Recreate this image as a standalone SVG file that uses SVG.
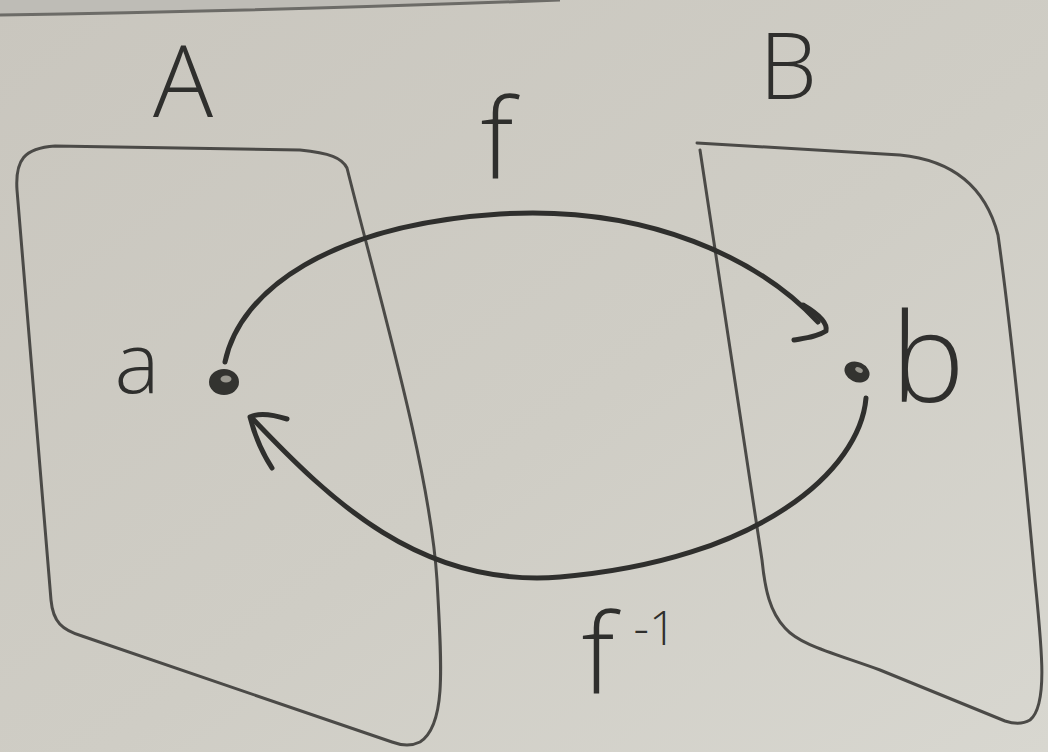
<svg xmlns="http://www.w3.org/2000/svg" width="1048" height="752" viewBox="0 0 1048 752">
  <defs>
    <linearGradient id="board" x1="0" y1="0" x2="1" y2="1">
      <stop offset="0" stop-color="#c9c6be"/>
      <stop offset="0.55" stop-color="#cfcdc5"/>
      <stop offset="1" stop-color="#d8d7d0"/>
    </linearGradient>
    <style>
      .box { fill: none; stroke: #4b4a47; stroke-width: 3; stroke-linecap: round; stroke-linejoin: round; }
      .arc { fill: none; stroke: #2f2f2d; stroke-width: 5; stroke-linecap: round; stroke-linejoin: round; }
      .lbl { font-family: "Open Sans", "Liberation Sans", sans-serif; font-weight: 300; fill: #2f2f2d; text-anchor: middle; }
      .pt { fill: #333330; }
      .hl { fill: #9a9890; }
    </style>
  </defs>

  <rect x="0" y="0" width="1048" height="752" fill="url(#board)"/>
  <path d="M0,0 L560,0 C400,6 200,12 0,15 Z" fill="#bebcb6"/>
  <path d="M0,15 C200,12 400,6 560,0" fill="none" stroke="#6c6b67" stroke-width="3"/>

  <g id="setA">
    <path class="box" d="M347,168 C380,300 430,470 437,580 C442,670 446,725 420,742 Q408,748 392,742 L82,636 C62,630 53,622 51,600 L17,190 C15,160 24,148 55,146 L300,150 C330,153 342,158 347,168 Z"/>
    <text class="lbl" x="183" y="117" font-size="100">A</text>
  </g>

  <g id="setB">
    <path class="box" d="M697,143 L900,155 C950,160 985,185 998,235 C1010,320 1025,470 1035,580 C1042,650 1048,705 1030,720 Q1020,726 1005,721 L880,670 C830,652 800,645 785,628 C770,612 765,590 762,560 L700,150"/>
    <text class="lbl" x="788" y="99" font-size="92">B</text>
  </g>

  <g id="elemA">
    <ellipse class="pt" cx="224" cy="382" rx="15" ry="13"/>
    <ellipse class="hl" cx="226" cy="379" rx="5.5" ry="3.5"/>
    <text class="lbl" x="137" y="393" font-size="85">a</text>
  </g>

  <g id="elemB">
    <ellipse class="pt" cx="857" cy="372" rx="13" ry="10" transform="rotate(25 857 372)"/>
    <ellipse class="hl" cx="859" cy="370" rx="4" ry="2.5" transform="rotate(25 859 370)"/>
    <text class="lbl" x="928" y="402" font-size="124">b</text>
  </g>

  <g id="connectors">
    <g id="f">
      <path class="arc" d="M225,362 C240,290 330,225 500,214 C650,205 760,260 818,322"/>
      <path class="arc" d="M803,305 C815,312 828,322 826,331 C817,337 806,338 794,340"/>
      <text class="lbl" x="497" y="178" font-size="110">f</text>
    </g>
    <g id="finv">
      <path class="arc" d="M866,398 C860,470 760,560 560,577 C420,588 330,500 252,418"/>
      <path class="arc" d="M287,419 Q262,411 250,417 Q257,445 272,468"/>
      <text class="lbl" font-size="110"><tspan x="598" y="693">f</tspan><tspan x="655" y="645" font-size="48">-1</tspan></text>
    </g>
  </g>
</svg>
